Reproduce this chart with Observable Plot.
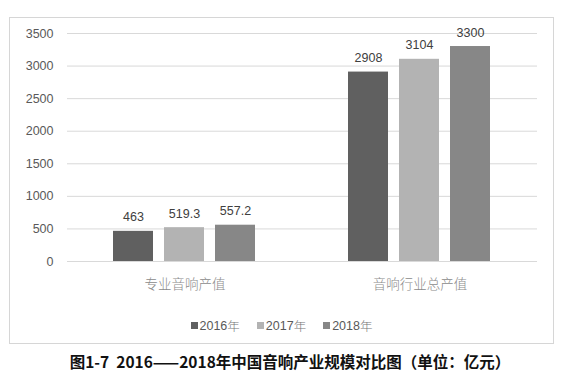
<!DOCTYPE html>
<html>
<head>
<meta charset="utf-8">
<script src="https://cdn.jsdelivr.net/npm/d3@7"></script>
<script src="https://cdn.jsdelivr.net/npm/@observablehq/plot@0.6"></script>
<style>
  html, body { margin: 0; padding: 0; background: #fff; }
  body { width: 572px; height: 383px; position: relative; overflow: hidden; }
  #box { position: absolute; left: 9px; top: 17px; width: 543px; height: 325px; border: 1.5px solid #d6d6d6; }
  #chart { position: absolute; left: 0; top: 0; }
  #legend { position: absolute; left: 0; top: 298px; width: 543px; display: flex; justify-content: center; gap: 17px;
    font-family: "Liberation Sans", "Noto Sans CJK SC", sans-serif; font-size: 12.5px; color: #595959; }
  #legend .item { display: flex; align-items: center; }
  #legend .sw { width: 7px; height: 7px; margin-right: 2px; }
  #legend .yr { font-family: "Noto Sans CJK SC", sans-serif; font-weight: 300; color: #777; }
  #caption { position: absolute; left: 0; top: 351px; width: 580px; text-align: center;
    font-family: "Noto Sans CJK SC", sans-serif; font-weight: 700; font-size: 15.5px; color: #111; line-height: 20px; }
</style>
</head>
<body>
<div id="box">
  <div id="chart"></div>
  <div id="legend"></div>
</div>
<div id="caption">图1-7&nbsp;&nbsp;2016——2018年中国音响产业规模对比图（单位：亿元）</div>
<script>
const categories = ["专业音响产值", "音响行业总产值"];
const years = ["2016年", "2017年", "2018年"];
const proValues = [463, 519.3, 557.2];
const totalValues = [2908, 3104, 3300];
const valueLabels = [["463", "519.3", "557.2"], ["2908", "3104", "3300"]];
const yTicks = [0, 500, 1000, 1500, 2000, 2500, 3000, 3500];
const colors = ["#606060", "#b3b3b3", "#878787"];

const seriesByCat = [proValues, totalValues];
const data = [];
categories.forEach((c, ci) => {
  years.forEach((y, yi) => {
    data.push({category: c, year: y, value: seriesByCat[ci][yi], label: valueLabels[ci][yi]});
  });
});

const chart = Plot.plot({
  width: 543,
  height: 285,
  marginLeft: 57,
  marginRight: 16,
  marginTop: 15,
  marginBottom: 42,
  style: {fontFamily: "Liberation Sans, sans-serif", background: "transparent"},
  fx: {domain: categories, padding: 0, label: null},
  x: {domain: years, axis: null, paddingInner: 0.21, paddingOuter: 0.865},
  y: {domain: [0, 3500], axis: null, label: null},
  color: {domain: years, range: colors},
  marks: [
    Plot.gridY(yTicks, {stroke: "#d9d9d9", strokeOpacity: 1, strokeWidth: 1}),
    Plot.axisY(yTicks, {label: null, tickSize: 0, tickPadding: 14, fontSize: 12.5, fill: "#595959", tickFormat: d => String(d)}),
    Plot.axisFx({label: null, anchor: "bottom", tickSize: 0, tickPadding: 18, fontSize: 13.5, fill: "#8a8a8a",
      fontFamily: "Noto Sans CJK SC, sans-serif", fontWeight: 300}),
    Plot.barY(data, {fx: "category", x: "year", y: "value", fill: "year"}),
    Plot.text(data, {fx: "category", x: "year", y: "value", text: "label", dy: -14, fontSize: 12.5, fill: "#404040"})
  ]
});
document.getElementById("chart").appendChild(chart);

const legend = document.getElementById("legend");
years.forEach((y, i) => {
  const item = document.createElement("div");
  item.className = "item";
  const sw = document.createElement("span");
  sw.className = "sw";
  sw.style.background = colors[i];
  const num = document.createElement("span");
  num.textContent = y.slice(0, 4);
  const yr = document.createElement("span");
  yr.className = "yr";
  yr.textContent = y.slice(4);
  item.appendChild(sw); item.appendChild(num); item.appendChild(yr);
  legend.appendChild(item);
});
</script>
</body>
</html>
